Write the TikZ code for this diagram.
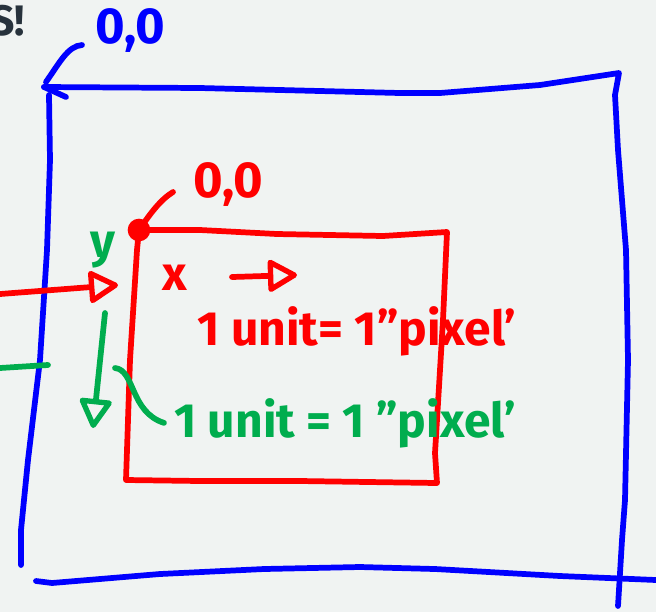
\documentclass[tikz,border=0pt]{standalone}
\usepackage{fontspec}
\setmainfont{Fira Sans}
\usetikzlibrary{arrows.meta,calc}
\definecolor{bg}{HTML}{F0F3F2}
\definecolor{pblue}{HTML}{0000FF}
\definecolor{pred}{HTML}{FF0000}
\definecolor{pgreen}{HTML}{00AD4E}
\definecolor{ink}{HTML}{27323C}
\begin{document}
\begin{tikzpicture}[x=0.75pt,y=-0.75pt,
  pen/.style={line width=4.3pt,line cap=round,line join=round},
  hand/.style={font=\bfseries\fontsize{36}{36}\selectfont, inner sep=0pt},
  zero/.style={font=\bfseries\fontsize{38}{38}\selectfont, inner sep=0pt},
  penarrow/.style={pen,-{Triangle[open,length=24pt,width=26pt,line width=4pt,round]}},
  ]
\fill[bg] (0,0) rectangle (656,612);
\useasboundingbox (0,0) rectangle (656,612);

% title fragment
\node[anchor=base east, inner sep=0pt, text=ink, font=\bfseries\fontsize{32}{32}\selectfont] (title) at (25,35) {S!};

% blue outer frame
\coordinate (bcorner) at (44,87);
\draw[pen,pblue] (bcorner) -- (200,88) -- (400,93) -- (440,93) -- (540,85) -- (619,73)
  -- (615,95) -- (618,150) -- (626,250) -- (628,360) -- (625,500) -- (622,540) -- (618,606);
\draw[pen,pblue] (bcorner) -- (66,97);
\draw[pen,pblue] (49,95) -- (50,160) -- (47,250) -- (40,360) -- (28,460) -- (21,530) -- (21,565);
\draw[pen,pblue] (36,581) -- (52,583) -- (160,574) -- (264,569) -- (360,567) -- (435,569) -- (560,576) -- (656,580);
\node[zero, text=pblue, anchor=west] (bzero) at (95,30) {0,0};
\draw[pen,pblue] (46,82) .. controls (60,62) and (68,46) .. ($(bzero.west)+(-13,15)$);

% red inner frame
\node[circle, fill=pred, inner sep=0pt, minimum size=17pt] (rdot) at (139,230) {};
\draw[pen,pred] (rdot.center) -- (200,230) -- (277,234) -- (383,236) -- (447,232)
  -- (443,320) -- (435,453) -- (437,483) -- (300,481) -- (200,481) -- (126,480)
  -- (130,360) -- (137,250) -- (rdot.center);
\node[zero, text=pred, anchor=west] (rzero) at (193,184) {0,0};
\draw[pen,pred] (rdot.center) .. controls (150,214) and (160,200) .. ($(rzero.west)+(-20,8)$);

% x axis
\coordinate (xin) at (0,294);
\coordinate (xinend) at (118,285);
\draw[penarrow,pred] (xin) -- (xinend);
\node[hand, text=pred] (xlab) at (175,278) {x};
\coordinate (xa) at (232,277);
\coordinate (xb) at (297,275);
\draw[penarrow,pred] (xa) -- (xb);
\node[hand, text=pred, anchor=base] (rtext) at (357,345) {1 unit= 1"pixel'};

% y axis
\node[hand, text=pgreen] (ylab) at (103,250) {y};
\coordinate (ya) at (105,313);
\coordinate (yb) at (93,428);
\draw[penarrow,pgreen] (ya) -- (yb);
\draw[pen,pgreen] (0,368) -- (48,365);
\node[hand, text=pgreen, anchor=base] (gtext) at (345,437) {1 unit = 1 "pixel'};
\coordinate (gstart) at (115,368);
\draw[pen,pgreen] (gstart) .. controls (135,370) and (130,412) .. ($(gtext.west)+(-10,0)$);
\end{tikzpicture}
\end{document}
